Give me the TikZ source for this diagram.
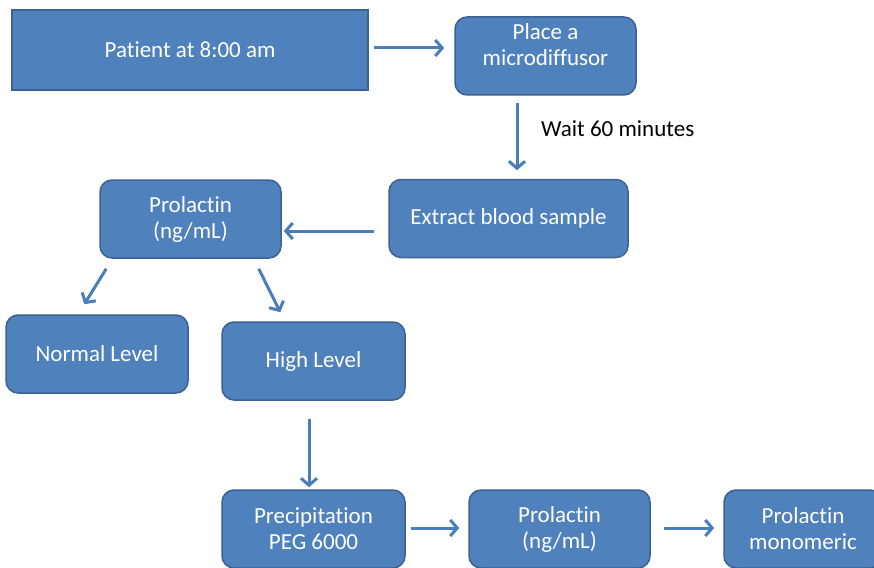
\documentclass[tikz,border=0pt]{standalone}
\usepackage{fontspec}
\setmainfont{Carlito}[Ligatures=NoCommon]
\usepackage{tikz}
\usetikzlibrary{arrows.meta}
\definecolor{boxblue}{HTML}{4F81BD}
\definecolor{boxline}{HTML}{3A6392}
\definecolor{arrowblue}{HTML}{4A7EBB}
\tikzset{
box/.style={
  rectangle,
  draw=boxline,
  fill=boxblue,
  line width=1.5pt,
  text=white,
  align=center,
  minimum height=78pt,
  inner sep=0pt,
  font=\fontsize{23}{26}\selectfont
},
roundbox/.style={box, rounded corners=12pt},
flow/.style={
  draw=arrowblue,
  line width=3pt,
  -{Straight Barb[length=7pt,width=16pt]}
},
note/.style={anchor=west, text=black, inner sep=0pt, font=\fontsize{23}{26}\selectfont}
}
\begin{document}
\begin{tikzpicture}[x=1pt,y=-1pt]
\useasboundingbox (0,0) rectangle (874,567);
\clip (0,0) rectangle (874,567);
\node[box, minimum width=356pt, minimum height=80pt] (patient) at (190,50) {Patient at 8:00 am};
\node[roundbox, minimum width=181pt, text depth=22pt] (place) at (545.5,56) {Place a\\microdiffusor};
\node[roundbox, minimum width=239pt] (extract) at (508.5,218.5) {Extract blood sample};
\node[roundbox, minimum width=181pt] (prolA) at (190.5,219) {Prolactin\\(ng/mL)};
\node[roundbox, minimum width=182pt] (normal) at (97,354) {Normal Level};
\node[roundbox, minimum width=183pt] (high) at (313.5,361) {High Level};
\node[roundbox, minimum width=183pt] (precip) at (313.5,529) {Precipitation\\PEG 6000};
\node[roundbox, minimum width=181pt] (prolB) at (559.5,529) {Prolactin\\(ng/mL)};
\node[roundbox, minimum width=158pt] (mono) at (803,529) {Prolactin\\monomeric};
\node[note] (wait) at (541,129) {Wait 60 minutes};
% the arrows
\draw[flow] ([xshift=5pt,yshift=2pt]patient.east) -- ([xshift=-10pt,yshift=8pt]place.west);
\draw[flow] ([xshift=-28.5pt,yshift=-7pt]place.south) -- ([xshift=8.5pt,yshift=8.5pt]extract.north);
\draw[flow] ([xshift=-14pt,yshift=-12.5pt]extract.west) -- ([xshift=2pt,yshift=-12pt]prolA.east);
\draw[flow] ([xshift=7pt,yshift=-10pt]prolA.south west) -- ([xshift=79pt,yshift=10pt]normal.north west);
\draw[flow] ([xshift=-23pt,yshift=-10pt]prolA.south east) -- ([xshift=59pt,yshift=9pt]high.north west);
\draw[flow] ([xshift=-4.5pt,yshift=-18pt]high.south) -- ([xshift=-4.5pt,yshift=2pt]precip.north);
\draw[flow] ([xshift=5pt,yshift=1pt]precip.east) -- ([xshift=-9pt,yshift=1pt]prolB.west);
\draw[flow] ([xshift=13pt,yshift=1pt]prolB.east) -- ([xshift=-9pt,yshift=1pt]mono.west);
\end{tikzpicture}
\end{document}
